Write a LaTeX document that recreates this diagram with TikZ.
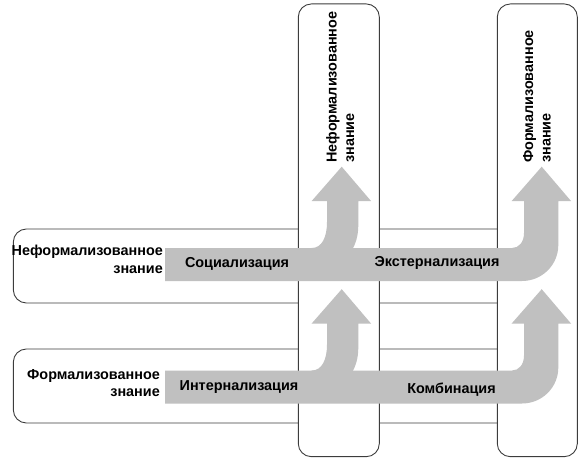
\documentclass[tikz,border=0pt]{standalone}
\usepackage{fontspec}
\setmainfont{Liberation Sans}
\definecolor{bandgray}{RGB}{192,192,192}
\definecolor{boxline}{RGB}{60,60,60}
\begin{document}
\begin{tikzpicture}[x=1pt,y=-1pt,
  panel/.style={draw=boxline,line width=0.9pt,rounded corners=13pt,fill=white,inner sep=0pt},
  lbl/.style={font=\fontsize{14.4}{17.5}\selectfont\bfseries,inner sep=0pt},
  band/.style={fill=bandgray,draw=none}]
\useasboundingbox (0,0) rectangle (585,468);
% horizontal panels
\node[panel,minimum width=526.7pt,minimum height=74pt] (h1) at (276.7,266) {};
\node[panel,minimum width=526.7pt,minimum height=74pt] (h2) at (276.7,386) {};
% vertical panels
\node[panel,minimum width=81pt,minimum height=452.7pt] (v1) at (338.8,230.3) {};
\node[panel,minimum width=80pt,minimum height=452.7pt] (v2) at (537.3,230.3) {};
% gray arrows (two rows)
\foreach \dy in {0,122.5}{
\begin{scope}[yshift=-\dy pt]
 \fill[band] (165,248) -- (512,248) .. controls (519,248) and (524,242) .. (524,233)
   -- (524,201) -- (511.7,201) -- (541.7,166.7) -- (571,201) -- (558.3,201)
   -- (558.3,245) .. controls (558.3,265) and (542,281) .. (522,281) -- (165,281) -- cycle;
 \fill[band] (311.7,248) .. controls (322,248) and (327,237) .. (327,222)
   -- (327,201) -- (311.7,201) -- (341.7,166.7) -- (371,201) -- (358.3,201)
   -- (358.3,225) .. controls (358.3,236) and (355.5,244) .. (352,250)
   -- (311.7,250) -- cycle;
\end{scope}}
% left labels
\node[lbl,align=right,anchor=north east] (l1) at (163,245) {Неформализованное\\знание};
\node[lbl,align=right,anchor=north east] (l2) at (160,369) {Формализованное\\знание};
% vertical labels
\node[lbl,align=left,rotate=90,anchor=north west] (t1) at (326,163) {Неформализованное\\знание};
\node[lbl,align=left,rotate=90,anchor=north west] (t2) at (523,163) {Формализованное\\знание};
% process labels
\node[lbl] (s) at (237,264) {Социализация};
\node[lbl] (e) at (437,263) {Экстернализация};
\node[lbl] (i) at (239,387) {Интернализация};
\node[lbl] (k) at (451.5,390) {Комбинация};
\end{tikzpicture}
\end{document}
